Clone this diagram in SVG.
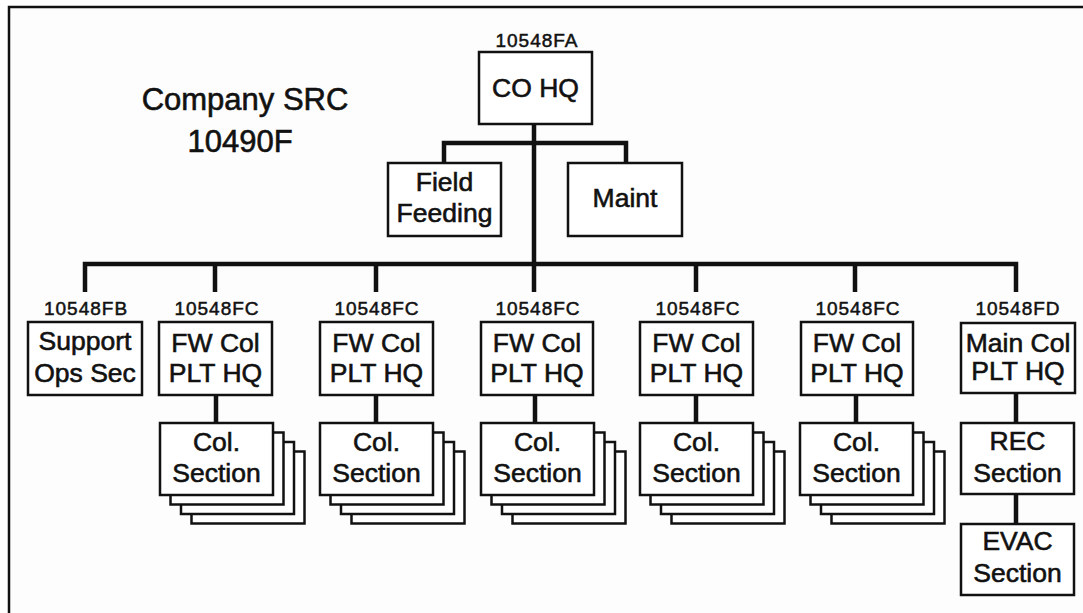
<svg xmlns="http://www.w3.org/2000/svg" width="1083" height="613" viewBox="0 0 1083 613">
<style>
.box{fill:#fff;stroke:#111;stroke-width:2.5}
.t{font-family:"Liberation Sans",Arial,Helvetica,sans-serif;font-size:26.5px;text-anchor:middle;fill:#111;stroke:#111;stroke-width:0.6}
.c{font-family:"Liberation Sans",Arial,Helvetica,sans-serif;font-size:19px;letter-spacing:1px;text-anchor:middle;fill:#111;stroke:#111;stroke-width:0.5}
.title{font-family:"Liberation Sans",Arial,Helvetica,sans-serif;font-size:31px;text-anchor:middle;fill:#111;stroke:#111;stroke-width:0.6}
.ln{fill:none;stroke:#111;stroke-width:4.5;stroke-linecap:butt;stroke-linejoin:miter}
</style>
<defs>
<g id="stack">
<rect class="box" x="31.5" y="28.5" width="113" height="72"/>
<rect class="box" x="21" y="19" width="113" height="72"/>
<rect class="box" x="10.5" y="9.5" width="113" height="72"/>
<rect class="box" x="0" y="0" width="113" height="72"/>
</g>
</defs>
<rect x="0" y="0" width="1083" height="613" fill="#fff"/>
<rect x="9" y="7" width="1100" height="700" fill="#fdfdfd" stroke="#111" stroke-width="2.5"/>

<g id="title">
<text class="title" x="245" y="110">Company SRC</text>
<text class="title" x="240" y="152">10490F</text>
</g>

<g id="connectors">
<path class="ln" d="M534 124 V292"/>
<path class="ln" d="M444 163 V143 H626 V163"/>
<path class="ln" d="M85 292 V264 H1016 V292"/>
<path class="ln" d="M215 264 V292 M376 264 V292 M696 264 V292 M855 264 V292"/>
<path class="ln" d="M216 395 V423 M376 395 V423 M535 395 V423 M696 395 V423 M856 395 V423"/>
<path class="ln" d="M1016 393 V423 M1016 494 V524"/>
</g>

<g id="co-hq">
<text class="c" x="537" y="47">10548FA</text>
<rect class="box" x="479" y="52" width="113" height="72"/>
<text class="t" x="535.5" y="97">CO HQ</text>
</g>

<g id="field-feeding">
<rect class="box" x="388" y="163" width="113" height="73"/>
<text class="t" x="444.5" y="191">Field</text>
<text class="t" x="444.5" y="222">Feeding</text>
</g>

<g id="maint">
<rect class="box" x="568" y="163" width="114" height="73"/>
<text class="t" x="625" y="207">Maint</text>
</g>

<g id="support-ops">
<text class="c" x="86" y="315">10548FB</text>
<rect class="box" x="28" y="322" width="114" height="73"/>
<text class="t" x="85" y="350">Support</text>
<text class="t" x="85" y="382">Ops Sec</text>
</g>

<g id="fw-col-1">
<text class="c" x="217" y="315">10548FC</text>
<rect class="box" x="159" y="322" width="113" height="73"/>
<text class="t" x="215.5" y="352">FW Col</text>
<text class="t" x="215.5" y="382">PLT HQ</text>
</g>
<g id="col-section-1">
<use href="#stack" x="160" y="423"/>
<text class="t" x="216.5" y="451">Col.</text>
<text class="t" x="216.5" y="482">Section</text>
</g>

<g id="fw-col-2">
<text class="c" x="377" y="315">10548FC</text>
<rect class="box" x="320" y="322" width="113" height="73"/>
<text class="t" x="376.5" y="352">FW Col</text>
<text class="t" x="376.5" y="382">PLT HQ</text>
</g>
<g id="col-section-2">
<use href="#stack" x="320" y="423"/>
<text class="t" x="376.5" y="451">Col.</text>
<text class="t" x="376.5" y="482">Section</text>
</g>

<g id="fw-col-3">
<text class="c" x="538" y="315">10548FC</text>
<rect class="box" x="481" y="322" width="112" height="73"/>
<text class="t" x="537" y="352">FW Col</text>
<text class="t" x="537" y="382">PLT HQ</text>
</g>
<g id="col-section-3">
<use href="#stack" x="481" y="423"/>
<text class="t" x="537.5" y="451">Col.</text>
<text class="t" x="537.5" y="482">Section</text>
</g>

<g id="fw-col-4">
<text class="c" x="698" y="315">10548FC</text>
<rect class="box" x="640" y="322" width="113" height="73"/>
<text class="t" x="696.5" y="352">FW Col</text>
<text class="t" x="696.5" y="382">PLT HQ</text>
</g>
<g id="col-section-4">
<use href="#stack" x="640" y="423"/>
<text class="t" x="696.5" y="451">Col.</text>
<text class="t" x="696.5" y="482">Section</text>
</g>

<g id="fw-col-5">
<text class="c" x="858" y="315">10548FC</text>
<rect class="box" x="801" y="322" width="112" height="73"/>
<text class="t" x="857" y="352">FW Col</text>
<text class="t" x="857" y="382">PLT HQ</text>
</g>
<g id="col-section-5">
<use href="#stack" x="800" y="423"/>
<text class="t" x="856.5" y="451">Col.</text>
<text class="t" x="856.5" y="482">Section</text>
</g>

<g id="main-col">
<text class="c" x="1018" y="315">10548FD</text>
<rect class="box" x="961" y="323" width="114" height="70"/>
<text class="t" x="1018" y="352">Main Col</text>
<text class="t" x="1018" y="380">PLT HQ</text>
</g>

<g id="rec-section">
<rect class="box" x="961" y="423" width="113" height="71"/>
<text class="t" x="1017.5" y="450">REC</text>
<text class="t" x="1017.5" y="482">Section</text>
</g>

<g id="evac-section">
<rect class="box" x="961" y="524" width="113" height="71"/>
<text class="t" x="1017.5" y="550">EVAC</text>
<text class="t" x="1017.5" y="582">Section</text>
</g>
</svg>
